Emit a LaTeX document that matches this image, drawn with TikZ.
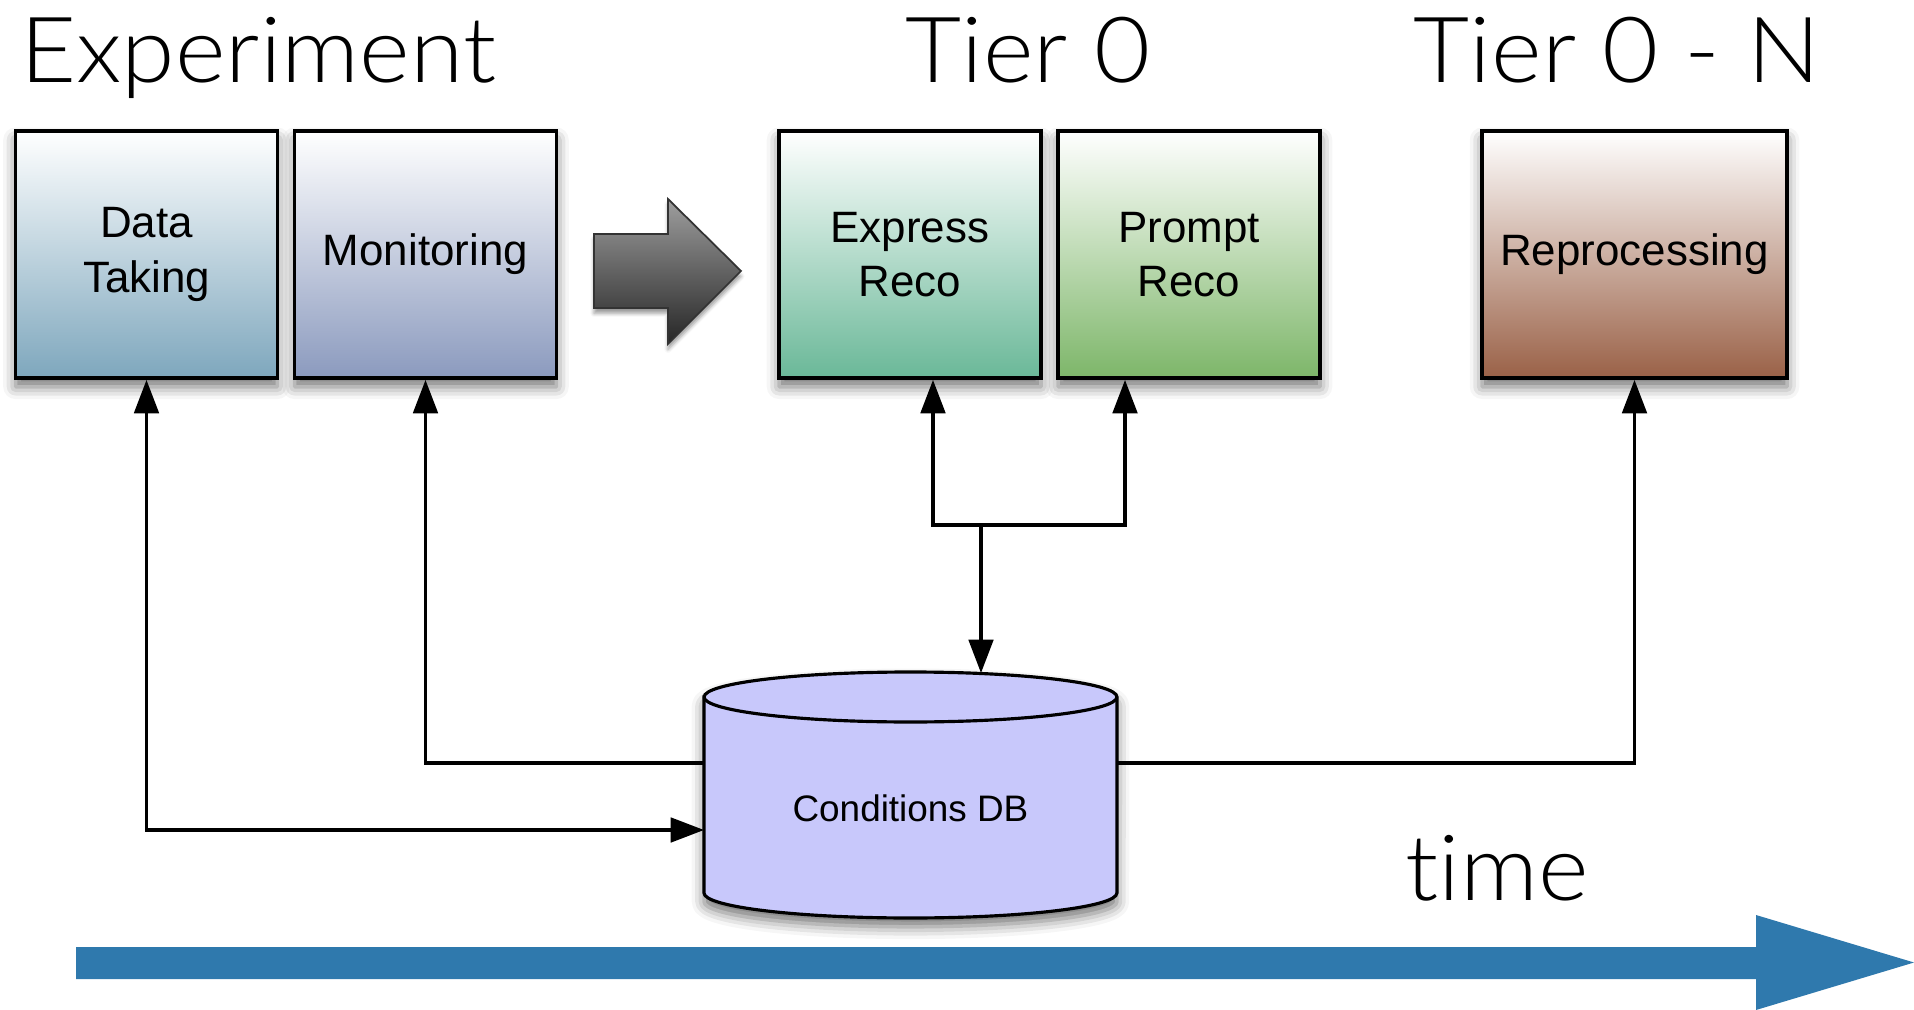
\documentclass[tikz,border=0pt]{standalone}
\usepackage{fontspec}
\setmainfont{Liberation Sans}
\IfFontExistsTF{Lato Light}{\newfontfamily\thinfont[FakeStretch=1.06,Ligatures={NoCommon,NoContextual}]{Lato Light}}{\newfontfamily\thinfont[FakeStretch=1.06,Ligatures={NoCommon,NoContextual}]{Lato}}
\usetikzlibrary{arrows.meta,shadows.blur}
\definecolor{dtbot}{RGB}{126,167,189}
\definecolor{monbot}{RGB}{139,154,190}
\definecolor{exbot}{RGB}{106,184,152}
\definecolor{prbot}{RGB}{125,182,105}
\definecolor{repbot}{RGB}{154,97,71}
\definecolor{dbfill}{RGB}{200,200,251}
\definecolor{timeblue}{RGB}{47,121,173}
\tikzset{
  boxshadow/.style={blur shadow={shadow xshift=0pt,shadow yshift=-5pt,shadow blur radius=7pt,shadow opacity=55}},
  stage/.style={draw,line width=2.2pt,minimum width=5.24cm,minimum height=4.94cm,
    align=center,font=\fontsize{25}{31}\selectfont,top color=white,boxshadow},
  title/.style={font=\thinfont\fontsize{52}{60}\selectfont,inner sep=0pt,anchor=base},
  link/.style={line width=1.8pt,draw=black},
  ptr/.tip={Triangle[length=19pt,width=14pt,fill=black]},
  dbcap/.style={x radius=4.13cm,y radius=0.5cm}
}
\begin{document}
\begin{tikzpicture}[x=0.02cm,y=-0.02cm]
  \useasboundingbox (0,0) rectangle (1914,1010);
  \node [title,anchor=base west] (exp) at (20,83) {Experiment};
  \node [title] (t0) at (1028,83) {Tier 0};
  \node [title] (tn) at (1617,83) {Tier 0 - N};
  \node [stage,bottom color=dtbot] (dt) at (146.5,254.5) {Data\\Taking};
  \node [stage,bottom color=monbot] (mon) at (425.5,254.5) {Monitoring};
  \node [stage,bottom color=exbot] (ex) at (910,254.5) {Express\\Reco};
  \node [stage,bottom color=prbot] (pr) at (1189,254.5) {Prompt\\Reco};
  \node [stage,bottom color=repbot,minimum width=6.1cm] (rep) at (1634.5,254.5) {Reprocessing};
  \draw [line width=1pt,draw=black!80,top color=black!38,bottom color=black!85,
         blur shadow={shadow xshift=0pt,shadow yshift=-3pt,shadow opacity=40}]
    (594,234) -- (668,234) -- (668,199) -- (741,271) -- (668,344) -- (668,308) -- (594,308) -- cycle;
  \path [fill=dbfill,draw,line width=1.8pt,boxshadow]
    (704,697) -- (704,893) arc [start angle=180,end angle=360,dbcap]
    -- (1117,697) arc [start angle=0,end angle=180,dbcap] -- cycle;
  \draw [line width=1.8pt] (704,697) arc [start angle=180,end angle=360,dbcap];
  \node [font=\fontsize{21}{24}\selectfont] (db) at (910.5,808) {Conditions DB};
  \coordinate (dbul) at (704,763);
  \coordinate (dbll) at (704,830);
  \coordinate (dbur) at (1117,763);
  \coordinate (dbtop) at (981,673);
  \coordinate (join) at (981,525);
  \draw [link,ptr-ptr] (dt.south) |- (dbll);
  \draw [link,-ptr] (dbul) -| (mon.south);
  \draw [link,-ptr] (dbur) -| (rep.south);
  \draw [link,ptr-ptr] ([xshift=0.46cm]ex.south) |- (join) -| ([xshift=-1.28cm]pr.south);
  \draw [link,-ptr] (join) -- (dbtop);
  \fill [timeblue] (76,947) -- (1756,947) -- (1756,915) -- (1914,962.5) -- (1756,1010) -- (1756,979) -- (76,979) -- cycle;
  \node [title] (time) at (1497,900) {time};
\end{tikzpicture}
\end{document}
